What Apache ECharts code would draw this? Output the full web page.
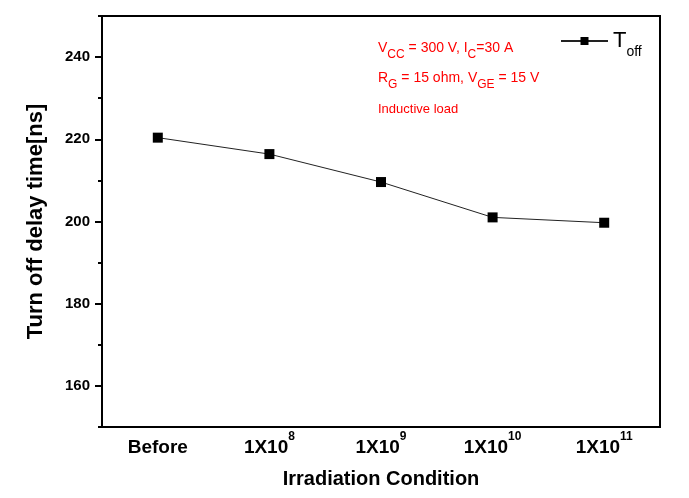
<!DOCTYPE html>
<html>
<head>
<meta charset="utf-8">
<script src="https://cdn.jsdelivr.net/npm/echarts@6/dist/echarts.min.js"></script>
<style>
html,body{margin:0;padding:0;background:#fff;}
#chart{width:689px;height:498px;}
</style>
</head>
<body>
<div id="chart"></div>
<script>
var categories = ['Before', '1X10^8', '1X10^9', '1X10^10', '1X10^11'];
var toffValues = [220.4, 216.4, 209.6, 201.0, 199.7];
var yTickLabels = [160, 180, 200, 220, 240];
var seriesName = 'Toff';

var FONT = '"Liberation Sans", Arial, sans-serif';
var chart = echarts.init(document.getElementById('chart'));

var option = {
  backgroundColor: '#fff',
  animation: false,
  grid: {
    left: 102, right: 29, top: 16, bottom: 71,
    show: true, borderColor: '#000', borderWidth: 2, backgroundColor: 'transparent'
  },
  legend: {
    data: [seriesName],
    left: 560, top: 23, padding: 0,
    itemWidth: 47, itemHeight: 10, itemGap: 6,
    formatter: function () { return '{t|T}{s|off}'; },
    textStyle: {
      fontFamily: FONT, color: '#000',
      rich: {
        t: { fontSize: 22, lineHeight: 36, fontFamily: FONT, color: '#000' },
        s: { fontSize: 14, lineHeight: 14, padding: [22, 0, 0, 0], fontFamily: FONT, color: '#000' }
      }
    }
  },
  xAxis: {
    type: 'category',
    data: categories,
    boundaryGap: true,
    name: 'Irradiation Condition',
    nameLocation: 'middle',
    nameGap: 42,
    nameTextStyle: { fontFamily: FONT, fontWeight: 'bold', fontSize: 20, color: '#000' },
    axisLine: { lineStyle: { color: '#000', width: 2 } },
    axisTick: { alignWithLabel: true, length: 6, lineStyle: { color: '#000', width: 2 } },
    splitLine: { show: false },
    axisLabel: {
      margin: 4,
      formatter: function (v) {
        var p = v.split('^');
        if (p.length === 1) return '{m|' + p[0] + '}';
        return '{m|' + p[0] + '}{u|' + p[1] + '}';
      },
      rich: {
        m: { fontSize: 19, lineHeight: 34, fontWeight: 'bold', fontFamily: FONT, color: '#000' },
        u: { fontSize: 12, lineHeight: 12, padding: [0, 0, 22, 0], fontWeight: 'bold', fontFamily: FONT, color: '#000' }
      }
    }
  },
  yAxis: [
    {
      type: 'value',
      min: 150, max: 250, interval: 10,
      axisLine: { show: true, lineStyle: { color: '#000', width: 2 } },
      axisTick: { show: true, length: 4, lineStyle: { color: '#000', width: 2 } },
      axisLabel: { show: false },
      splitLine: { show: false }
    },
    {
      type: 'value',
      min: 150, max: 250, splitNumber: 5,
      position: 'left',
      name: 'Turn off delay time[ns]',
      nameLocation: 'middle',
      nameGap: 55,
      nameRotate: 90,
      nameTextStyle: { fontFamily: FONT, fontWeight: 'bold', fontSize: 22, color: '#000' },
      axisLine: { show: false },
      axisTick: { show: true, length: 7, lineStyle: { color: '#000', width: 2 } },
      axisLabel: {
        margin: 12,
        showMinLabel: false, showMaxLabel: false,
        fontFamily: FONT, fontWeight: 'bold', fontSize: 15, color: '#000',
        formatter: function (v) { return yTickLabels.indexOf(v) >= 0 ? String(v) : ''; }
      },
      splitLine: { show: false }
    }
  ],
  series: [
    {
      name: seriesName,
      type: 'line',
      data: toffValues,
      symbol: 'rect',
      symbolSize: 10,
      itemStyle: { color: '#000' },
      lineStyle: { color: '#222', width: 1 }
    }
  ],
  graphic: [
    {
      type: 'text', left: 378, top: 35,
      style: {
        text: '{m|V}{s|CC}{m| = 300 V, I}{s|C}{m|=30 A}',
        fill: '#ff0000',
        rich: {
          m: { fontSize: 14, lineHeight: 26, fontFamily: FONT, fill: '#ff0000' },
          s: { fontSize: 12, lineHeight: 12, padding: [14, 0, 0, 0], fontFamily: FONT, fill: '#ff0000' }
        }
      }
    },
    {
      type: 'text', left: 378, top: 65,
      style: {
        text: '{m|R}{s|G}{m| = 15 ohm, V}{s|GE}{m| = 15 V}',
        fill: '#ff0000',
        rich: {
          m: { fontSize: 14, lineHeight: 26, fontFamily: FONT, fill: '#ff0000' },
          s: { fontSize: 12, lineHeight: 12, padding: [14, 0, 0, 0], fontFamily: FONT, fill: '#ff0000' }
        }
      }
    },
    {
      type: 'text', left: 378, top: 103,
      style: { text: 'Inductive load', fontSize: 13, fontFamily: FONT, fill: '#ff0000' }
    }
  ]
};
chart.setOption(option);
</script>
</body>
</html>
